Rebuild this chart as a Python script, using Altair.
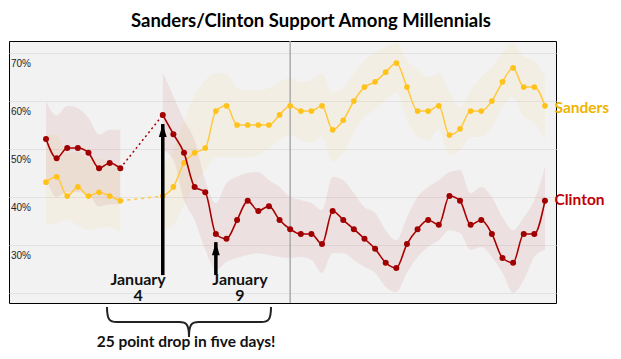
import altair as alt
import pandas as pd

# ---- data ----
days = list(range(0, 8)) + list(range(11, 48))
seg = ["early"] * 8 + ["late"] * 37

clinton = [52.1, 48.1, 50.2, 50.2, 49.2, 46.0, 47.1, 46.0,
           57.1, 53.1, 49.2, 42.1, 41.0, 32.3, 31.3, 35.2, 39.2, 37.1, 38.1, 35.2,
           33.3, 32.3, 32.3, 30.2, 37.1, 35.2, 33.3, 31.3, 29.2, 26.3, 25.2, 30.2,
           33.3, 35.2, 34.2, 40.2, 39.2, 34.2, 35.2, 32.3, 27.3, 26.3, 32.3, 32.3, 39.2]
sanders = [43.1, 44.2, 40.2, 42.1, 40.2, 41.0, 40.2, 39.2,
           40.2, 42.1, 47.1, 49.2, 50.2, 57.9, 59.0, 55.0, 55.0, 55.0, 55.0, 57.1,
           59.0, 57.9, 57.9, 59.0, 54.0, 56.0, 60.0, 62.9, 64.0, 66.0, 67.9, 62.9,
           57.9, 57.9, 59.0, 52.9, 54.2, 57.9, 57.9, 60.0, 64.0, 66.9, 62.9, 62.9, 59.0]
clinton_hi = [60, 57, 59, 58.5, 56.5, 53, 54, 54,
              66, 61, 56, 51.9, 43.5, 38.75, 42.9, 44.2, 45, 45.2, 43.5, 42.1,
              40.0, 39.4, 38.75, 37.3, 44.2, 43.5, 40.8, 37.9, 36.7, 33.1, 31.0, 35.8,
              40.0, 42.1, 43.5, 45.2, 45.6, 40.8, 42.1, 40.0, 35.8, 33.1, 35.8, 39.4, 46.25]
clinton_lo = [44, 40, 41, 41, 40.5, 38, 38.5, 38.5,
              49.8, 47.7, 39.4, 35.2, 29.0, 24.8, 26.5, 27.3, 27.9, 28.3, 27.9, 27.5,
              27.3, 27.5, 26.9, 24.2, 28.3, 28.3, 26.9, 25.4, 24.2, 21.25, 20.2, 24.2,
              27.5, 29.6, 31.0, 33.1, 32.5, 29.0, 29.6, 27.5, 24.2, 20.0, 22.7, 27.5, 29.0]
sanders_hi = [52.9, 53, 49, 49.5, 48, 48, 47, 46,
              46.7, 49.8, 56, 61.25, 64.4, 65.8, 65.8, 62.7, 62.3, 62.3, 62.7, 64,
              64.8, 64.0, 64.4, 65.8, 61.7, 62.9, 65.8, 68.5, 70, 71.25, 72.1, 68.5,
              66.5, 65, 65.8, 61.9, 58.75, 62.3, 65, 67.1, 70, 72.1, 69.2, 68.5, 65]
sanders_lo = [34.2, 34.5, 35.2, 34, 33.1, 33.5, 33.75, 32.5,
              33.1, 34.2, 38.3, 42.5, 45.6, 48.3, 48.3, 48.3, 48.3, 48.75, 50.2, 51.9,
              52.9, 51.9, 51.25, 52.5, 47.3, 49.2, 53.3, 56.7, 58.1, 60.2, 61.7, 56,
              52.5, 51.9, 54, 48.75, 49.8, 52.5, 52.5, 54.6, 58.75, 60.8, 56.7, 55.4, 51.9]

grid_values = [20, 30, 40, 50, 60, 70]
tick_values = [70, 60, 50, 40, 30]
tick_labels = ["70%", "60%", "50%", "40%", "30%"]
divider_day = [23]

df = pd.DataFrame(dict(day=days, seg=seg, clinton=clinton, sanders=sanders,
                       c_hi=clinton_hi, c_lo=clinton_lo, s_hi=sanders_hi, s_lo=sanders_lo))
gap = df[df["day"].isin([7, 11])]

XS = alt.Scale(domain=[-3.485, 48.04], nice=False, zero=False)
YS = alt.Scale(domain=[17.92, 72.5], nice=False, zero=False)
YA = alt.Axis(values=grid_values, grid=True, gridColor="#e2e2e2", gridWidth=1,
              labels=False, ticks=False, domain=False, title=None)


def X(f):
    return alt.X(f, type="quantitative", scale=XS, axis=None)


def Y(f):
    return alt.Y(f, type="quantitative", scale=YS, axis=YA)


base = alt.Chart(df)

s_band = base.mark_area(color="#ffc000", opacity=0.06, interpolate="monotone").encode(
    x=X("day"), y=Y("s_lo"), y2=alt.Y2("s_hi"), detail="seg:N")
c_band = base.mark_area(color="#b00000", opacity=0.07, interpolate="monotone").encode(
    x=X("day"), y=Y("c_lo"), y2=alt.Y2("c_hi"), detail="seg:N")

vrule = alt.Chart(pd.DataFrame({"day": divider_day})).mark_rule(
    color="#aaaaaa", strokeWidth=1.5).encode(x=X("day"))

s_gap = alt.Chart(gap).mark_line(color="#ffc83d", strokeDash=[3, 4], strokeWidth=1.5).encode(
    x=X("day"), y=Y("sanders"))
c_gap = alt.Chart(gap).mark_line(color="#a00000", strokeDash=[2, 3], strokeWidth=1.5).encode(
    x=X("day"), y=Y("clinton"))

s_line = base.mark_line(color="#ffc83d", strokeWidth=1.5, interpolate="monotone").encode(
    x=X("day"), y=Y("sanders"), detail="seg:N")
s_pts = base.mark_circle(color="#ffc21a", size=32, opacity=1).encode(x=X("day"), y=Y("sanders"))
c_line = base.mark_line(color="#a80000", strokeWidth=1.6, interpolate="monotone").encode(
    x=X("day"), y=Y("clinton"), detail="seg:N")
c_pts = base.mark_circle(color="#a00000", size=36, opacity=1).encode(x=X("day"), y=Y("clinton"))

ticks_df = pd.DataFrame({"v": tick_values, "lab": tick_labels, "x": [-3.3] * 5})
tick_text = alt.Chart(ticks_df).mark_text(align="left", baseline="middle", dy=11,
                                          font="Liberation Sans", fontSize=10, color="#222222").encode(
    x=X("x"), y=Y("v"), text="lab:N")

arrows = pd.DataFrame({"day": [11, 16], "base": [25.4, 25.4], "tip": [55.2, 30.6]})
shafts = alt.Chart(arrows).mark_rule(color="black", strokeWidth=3.5, yOffset=8).encode(
    x=X("day"), y=Y("base"), y2=alt.Y2("tip"))
heads = alt.Chart(arrows).mark_point(shape="M0,-1L0.6,1L-0.6,1Z", size=169, filled=True,
                                     color="black", opacity=1, yOffset=6.5).encode(
    x=X("day"), y=Y("tip"))

ann = pd.DataFrame({"x": [8.67, 18.27],
                    "y": [21.67, 21.67],
                    "t": ["January\n4", "January\n9"]})
ann_text = alt.Chart(ann).mark_text(font="Lato", fontWeight="bold", fontSize=16, lineBreak="\n",
                                    lineHeight=16, baseline="alphabetic", align="center",
                                    color="#111111").encode(
    x=X("x"), y=Y("y"), text="t:N")

brace_df = pd.DataFrame({"x": [13.47], "y": [13.96]})
brace = alt.Chart(brace_df).mark_point(
    shape="M-1,-0.183C-1,-0.03,-0.97,0,-0.88,0L-0.12,0C-0.03,0,0,0.03,0,0.183"
          "C0,0.03,0.03,0,0.12,0L0.88,0C0.97,0,1,-0.03,1,-0.183",
    size=26896, filled=False, stroke="#222222", strokeWidth=2, opacity=1).encode(
    x=X("x"), y=Y("y"))

drop_df = pd.DataFrame({"x": [13.19], "y": [8.85], "t": ["25 point drop in five days!"]})
drop_text = alt.Chart(drop_df).mark_text(font="Lato", fontWeight="bold", fontSize=15.5,
                                         baseline="alphabetic", align="center", color="#111111").encode(
    x=X("x"), y=Y("y"), text="t:N")

title_df = pd.DataFrame({"x": [24.96], "y": [75.52], "t": ["Sanders/Clinton Support  Among Millennials"]})
title_text = alt.Chart(title_df).mark_text(font="Lato", fontWeight="bold", fontSize=18.5,
                                           baseline="alphabetic", align="center", color="#000000").encode(
    x=X("x"), y=Y("y"), text="t:N")

lab_df = pd.DataFrame({"x": [47.9, 47.9], "y": [57.5, 38.33], "t": ["Sanders", "Clinton"],
                       "c": ["#f0b400", "#c00000"]})
labels = alt.Chart(lab_df).mark_text(font="Lato", fontWeight="bold", fontSize=15.5,
                                     baseline="alphabetic", align="left").encode(
    x=X("x"), y=Y("y"), text="t:N", color=alt.Color("c:N", scale=None))

chart = alt.layer(
    s_band, c_band, vrule, s_gap, c_gap, s_line, s_pts, c_line, c_pts,
    tick_text, shafts, heads, ann_text, brace, drop_text, title_text, labels
).properties(
    width=547, height=262,
    autosize=alt.AutoSizeParams(type="none"),
    padding={"left": 1, "top": 33, "right": 56, "bottom": 48},
    background="white",
).configure_view(stroke="black", strokeWidth=1, fill="#f2f2f2")

chart.save("out.html", embed_options={"renderer": "svg", "actions": False})
